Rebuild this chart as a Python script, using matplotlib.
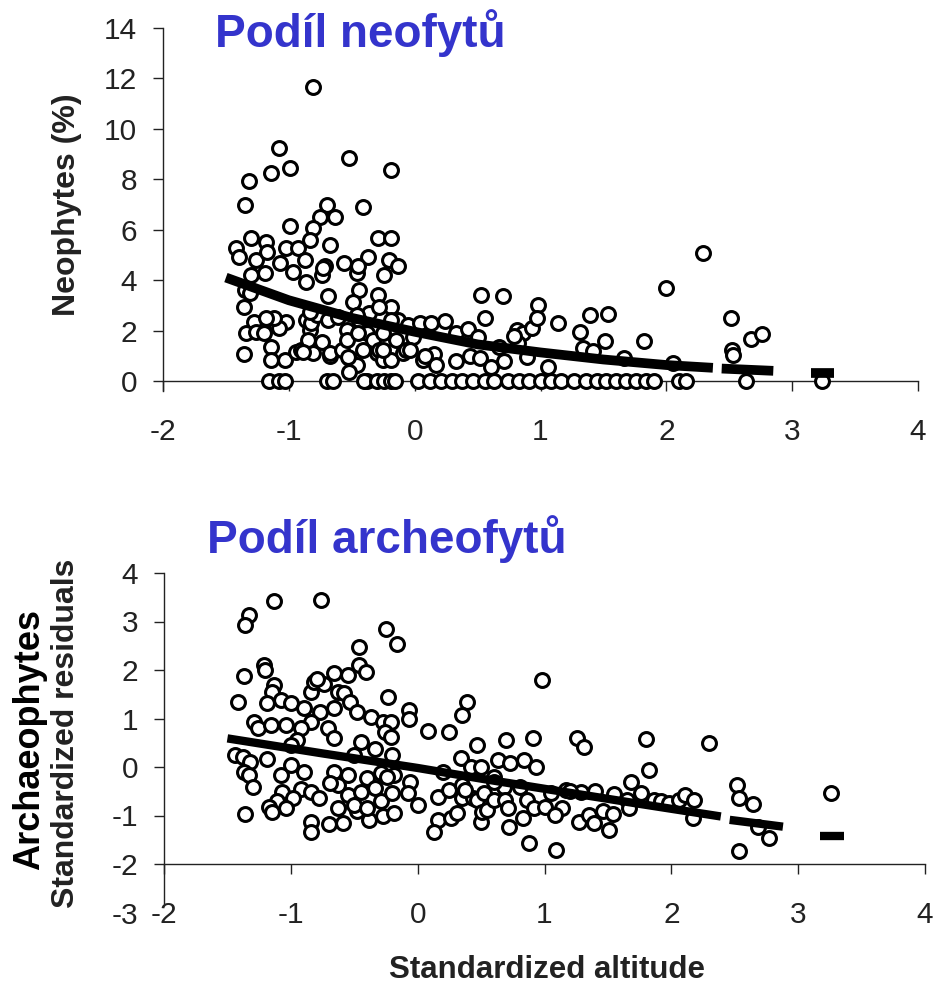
import numpy as np
import matplotlib
matplotlib.use("Agg")
import matplotlib.pyplot as plt

plt.rcParams['font.family'] = ['Liberation Sans', 'DejaVu Sans']
plt.rcParams['axes.unicode_minus'] = False

# --- top panel: neophytes (%) vs standardized altitude
neo_pts = [
    (-1.42, 5.27), (-1.40, 4.93), (-1.30, 5.66), (-1.32, 7.95), (-1.35, 6.98), (-1.26, 4.80),
    (-1.30, 4.20), (-1.35, 3.61), (-1.31, 3.48), (-1.36, 2.95), (-1.28, 2.35), (-1.34, 1.89),
    (-1.26, 1.96), (-1.36, 1.05), (-1.20, 1.89),
    (-1.18, 5.53), (-1.17, 5.10), (-1.19, 4.27), (-1.14, 8.24), (-1.08, 9.23), (-0.99, 8.44),
    (-0.99, 6.15), (-1.07, 4.67), (-1.02, 5.27), (-0.93, 5.27), (-0.97, 4.34), (-1.15, 2.42),
    (-1.10, 2.22), (-1.02, 2.35), (-1.08, 2.09), (-1.14, 1.36), (-1.14, 0.83), (-1.03, 0.83),
    (-1.16, 0.0), (-1.08, 0.0), (-1.03, 0.0), (-0.94, 1.16), (-0.90, 1.23), (-1.12, 2.48),
    (-1.18, 2.48),
    (-0.81, 11.65), (-0.70, 6.98), (-0.63, 6.52), (-0.75, 6.52), (-0.81, 6.05), (-0.83, 5.60),
    (-0.67, 5.40), (-0.71, 4.54), (-0.74, 4.20), (-0.87, 4.80), (-0.86, 3.94), (-0.73, 4.47),
    (-0.69, 3.35), (-0.86, 2.42), (-0.83, 2.02), (-0.82, 2.29), (-0.78, 2.62), (-0.83, 2.75),
    (-0.81, 1.10), (-0.74, 1.56), (-0.85, 1.63), (-0.89, 1.16), (-0.69, 2.42), (-0.61, 2.55),
    (-0.67, 0.97), (-0.67, 1.10), (-0.70, 0.0), (-0.65, 0.0),
    (-0.52, 8.83), (-0.41, 6.88), (-0.56, 4.67), (-0.37, 4.93), (-0.46, 4.27), (-0.45, 4.54),
    (-0.44, 3.61), (-0.49, 3.15), (-0.36, 2.68), (-0.54, 2.02), (-0.58, 1.23), (-0.52, 0.90),
    (-0.44, 2.42), (-0.38, 1.89), (-0.33, 1.63), (-0.41, 1.23), (-0.30, 1.10), (-0.46, 0.63),
    (-0.54, 1.63), (-0.53, 0.96), (-0.52, 0.37), (-0.46, 2.62), (-0.45, 1.89), (-0.38, 0.0),
    (-0.40, 0.0), (-0.28, 1.23), (-0.25, 0.83),
    (-0.19, 8.37), (-0.29, 5.66), (-0.19, 5.66), (-0.20, 4.80), (-0.13, 4.54), (-0.24, 4.20),
    (-0.29, 3.41), (-0.19, 2.95), (-0.28, 2.95), (-0.13, 2.42), (-0.25, 1.89), (-0.19, 2.42),
    (-0.15, 1.63), (-0.19, 0.83), (-0.25, 1.23), (-0.09, 1.10), (-0.07, 1.23), (-0.05, 2.22),
    (-0.30, 0.0), (-0.24, 0.0), (-0.19, 0.0), (-0.16, 0.0),
    (0.04, 2.29), (-0.01, 1.76), (-0.04, 1.23), (0.07, 0.83), (0.13, 2.29), (0.24, 2.39),
    (0.15, 1.05), (0.17, 0.65), (0.08, 0.97), (0.33, 1.89), (0.42, 2.05), (0.50, 1.76),
    (0.33, 0.80), (0.44, 0.97), (0.52, 0.90), (0.53, 3.41), (0.70, 3.35), (0.56, 2.48),
    (0.61, 0.55), (0.71, 0.80), (0.67, 1.36), (0.81, 2.02), (0.86, 1.89), (0.82, 1.49),
    (0.79, 1.80), (0.93, 2.09), (0.89, 0.93), (0.98, 3.02), (0.97, 2.48),
    (0.03, 0.0), (0.12, 0.0), (0.21, 0.0), (0.30, 0.0), (0.38, 0.0), (0.46, 0.0), (0.56, 0.0),
    (0.63, 0.0), (0.74, 0.0), (0.83, 0.0), (0.91, 0.0), (1.00, 0.0),
    (1.06, 0.57), (1.14, 2.29), (1.39, 2.60), (1.54, 2.64), (1.31, 1.96), (1.34, 1.30),
    (1.42, 1.20), (1.51, 1.59), (1.82, 1.60), (1.66, 0.92), (2.00, 3.70), (2.05, 0.72),
    (1.08, 0.0), (1.16, 0.0), (1.27, 0.0), (1.36, 0.0), (1.45, 0.0), (1.52, 0.0), (1.60, 0.0),
    (1.68, 0.0), (1.76, 0.0), (1.84, 0.0), (1.90, 0.0),
    (2.29, 5.09), (2.10, 0.0), (2.16, 0.0), (2.51, 2.48), (2.52, 1.23), (2.53, 1.03),
    (2.67, 1.67), (2.76, 1.85), (2.63, 0.0), (3.24, 0.0),
]
neo_x = [p[0] for p in neo_pts]
neo_y = [p[1] for p in neo_pts]

# fitted curve (drawn in pieces, as in the source figure)
neo_fit = [
    ([-1.5, -1.0, -0.5, 0.0, 0.5, 1.0, 1.5, 2.0, 2.37],
     [4.10, 3.20, 2.50, 1.95, 1.45, 1.13, 0.85, 0.63, 0.52]),
    ([2.44, 2.85], [0.49, 0.40]),
    ([3.15, 3.33], [0.33, 0.33]),
]

# --- bottom panel: archaeophytes standardized residuals
arch_pts = [
    (-1.13, 3.42), (-0.76, 3.44), (-1.33, 3.13), (-1.36, 2.92), (-0.25, 2.85), (-0.16, 2.53),
    (-0.46, 2.48), (-0.46, 2.10), (-0.41, 1.96), (-1.21, 2.10), (-1.20, 2.01), (-1.37, 1.88),
    (-1.13, 1.69), (-1.15, 1.55), (-1.42, 1.34),
    (-0.84, 1.55), (-0.82, 1.76), (-0.74, 1.72), (-0.66, 1.93), (-0.55, 1.89), (-0.63, 1.55),
    (-0.79, 1.82), (-1.08, 1.38), (-1.00, 1.31), (-1.19, 1.31), (-0.58, 1.52), (-0.53, 1.34),
    (-0.48, 1.14), (-0.37, 1.03), (-0.27, 0.93), (-0.90, 1.21), (-0.77, 1.14), (-0.66, 1.21),
    (-0.84, 0.93), (-0.71, 0.80), (-0.66, 0.59), (-1.29, 0.93), (-1.26, 0.80), (-1.16, 0.86),
    (-1.04, 0.86), (-0.92, 0.80), (-0.95, 0.56), (-0.21, 0.93), (-0.26, 0.73), (-0.21, 0.62),
    (-0.20, 0.25), (-0.45, 0.52), (-0.34, 0.38), (-0.23, 1.45), (-0.07, 1.17), (-0.07, 1.00),
    (0.08, 0.74), (0.25, 0.73), (0.39, 1.34), (0.35, 1.08), (0.47, 0.45), (0.70, 0.56),
    (0.91, 0.60), (0.34, 0.18), (0.42, 0.01), (0.50, 0.01), (0.63, 0.14), (0.73, 0.08),
    (0.84, 0.14), (0.93, 0.01), (0.98, 1.79), (1.26, 0.59), (1.31, 0.42), (1.80, 0.58),
    (1.82, -0.07), (2.30, 0.50), (1.68, -0.30), (2.52, -0.37), (2.53, -0.64), (2.64, -0.76),
    (2.68, -1.23), (2.77, -1.47), (2.53, -1.74), (3.26, -0.53),
    (-1.44, 0.25), (-1.38, 0.21), (-1.32, 0.11), (-1.37, -0.10), (-1.33, -0.16), (-1.30, -0.41),
    (-1.19, 0.16), (-1.08, -0.16), (-1.00, 0.04), (-0.90, -0.11), (-0.92, -0.45), (-1.07, -0.51),
    (-0.98, -0.64), (-1.11, -0.71), (-1.36, -0.96), (-1.17, -0.82), (-1.15, -0.93), (-1.04, -0.85),
    (-0.84, -1.13), (-0.84, -1.33), (-0.84, -0.51), (-0.78, -0.64), (-0.70, -1.17), (-0.59, -1.16),
    (-0.48, -0.90), (-0.38, -1.09), (-0.27, -1.02), (-0.19, -0.95), (-0.66, -0.10), (-0.55, -0.16),
    (-0.63, -0.37), (-0.69, -0.34), (-0.55, -0.58), (-0.45, -0.51), (-0.40, -0.23), (-0.34, -0.44),
    (-0.29, -0.12), (-0.19, -0.16), (-0.24, -0.20), (-0.63, -0.85), (-0.50, -0.78), (-0.40, -0.85),
    (-0.29, -0.71), (-0.20, -0.54), (-0.06, -0.30), (0.00, -0.78), (-0.08, -0.54),
    (0.16, -0.61), (0.25, -0.47), (0.35, -0.64), (0.44, -0.64), (0.35, -0.37), (0.37, -0.47),
    (0.47, -0.68), (0.52, -0.54), (0.60, -0.20), (0.68, -0.41), (0.16, -1.09), (0.26, -1.06),
    (0.31, -0.95), (0.50, -1.13), (0.13, -1.35), (0.51, -0.92), (0.55, -0.88), (0.60, -0.68),
    (0.69, -0.68), (0.72, -1.24), (0.83, -1.06), (0.88, -1.56), (1.09, -1.72), (0.81, -0.41),
    (0.86, -0.68), (0.71, -0.85), (0.92, -0.85), (1.00, -0.82), (1.14, -0.85), (1.08, -0.99),
    (1.05, -0.54), (1.17, -0.47), (1.29, -0.51), (1.40, -0.49), (1.27, -1.13), (1.35, -0.99),
    (1.39, -1.16), (1.51, -1.29), (1.46, -0.90), (1.54, -0.97), (1.55, -0.56), (1.65, -0.68),
    (1.76, -0.54), (1.86, -0.68), (1.92, -0.70), (1.98, -0.75), (1.67, -0.85), (2.06, -0.69),
    (2.11, -0.58), (2.18, -0.68), (2.17, -1.06),
    (-1.00, 0.45), (-0.50, 0.25), (0.20, -0.10), (0.60, -0.30), (1.20, -0.50),
]
arch_x = [p[0] for p in arch_pts]
arch_y = [p[1] for p in arch_pts]

arch_fit = [
    ([-1.5, -0.75, 0.0, 0.5, 1.05, 1.7, 2.39],
     [0.59, 0.28, -0.02, -0.24, -0.47, -0.74, -1.02]),
    ([2.46, 2.88], [-1.09, -1.23]),
    ([3.17, 3.36], [-1.43, -1.43]),
]

x_ticks = [-2, -1, 0, 1, 2, 3, 4]
neo_yticks = [0, 2, 4, 6, 8, 10, 12, 14]
arch_yticks = [-3, -2, -1, 0, 1, 2, 3, 4]

W, H = 933, 986
fig = plt.figure(figsize=(W / 100, H / 100), dpi=100)
fig.patch.set_facecolor('white')

axc = '#222222'
tick_fs = 21.5
msize = 100
medge = 2.2


def style_axes(ax):
    for s in ('top', 'right'):
        ax.spines[s].set_visible(False)
    for s in ('left', 'bottom'):
        ax.spines[s].set_linewidth(1.0)
        ax.spines[s].set_color(axc)
    ax.tick_params(axis='both', direction='out', length=7.5, width=1.0,
                   color=axc, labelcolor=axc, labelsize=tick_fs)
    ax.tick_params(axis='y', pad=11)
    ax.tick_params(axis='x', pad=19)
    ax.set_facecolor('none')


# top panel
ax1 = fig.add_axes([163 / W, 1 - 391 / H, 755 / W, (391 - 28) / H])
ax1.scatter(neo_x, neo_y, s=msize, facecolors='white', edgecolors='black',
            linewidths=medge, zorder=3, clip_on=False)
for fx, fy in neo_fit:
    ax1.plot(fx, fy, color='black', lw=7, solid_capstyle='butt', zorder=4)
ax1.set_xlim(-2, 4)
ax1.set_ylim(-0.4, 14)
ax1.spines['bottom'].set_position(('data', 0))
ax1.set_xticks(x_ticks)
ax1.set_yticks(neo_yticks)
style_axes(ax1)

# bottom panel
ax2 = fig.add_axes([164 / W, 1 - 912.5 / H, 761 / W, (912.5 - 573) / H])
ax2.scatter(arch_x, arch_y, s=msize, facecolors='white', edgecolors='black',
            linewidths=medge, zorder=3)
for fx, fy in arch_fit:
    ax2.plot(fx, fy, color='black', lw=6, solid_capstyle='butt', zorder=4)
ax2.set_xlim(-2, 4)
ax2.set_ylim(-3, 4)
ax2.spines['bottom'].set_position(('data', -2))
ax2.spines['left'].set_bounds(-2.8, 4)
ax2.set_xticks(x_ticks)
ax2.set_yticks(arch_yticks)
style_axes(ax2)
ax2.yaxis.get_major_ticks()[0].tick1line.set_visible(False)

# titles and axis labels
title_c = '#3434cc'
fig.text(215 / W, 1 - 47 / H, 'Podíl neofytů', fontsize=33, fontweight='bold',
         color=title_c, ha='left', va='baseline')
fig.text(207 / W, 1 - 553 / H, 'Podíl archeofytů', fontsize=33, fontweight='bold',
         color=title_c, ha='left', va='baseline')
fig.text(67 / W, 1 - 205 / H, 'Neophytes (%)', fontsize=23, fontweight='bold',
         color=axc, rotation=90, ha='center', va='center')
fig.text(66 / W, 1 - 733 / H, 'Standardized residuals', fontsize=23, fontweight='bold',
         color=axc, rotation=90, ha='center', va='center')
fig.text(30 / W, 1 - 740 / H, 'Archaeophytes', fontsize=26, fontweight='bold',
         color='black', rotation=90, ha='center', va='center')
fig.text(547 / W, 1 - 970 / H, 'Standardized altitude', fontsize=22.5, fontweight='bold',
         color=axc, ha='center', va='center')

fig.savefig('out.png', dpi=100, facecolor='white')
